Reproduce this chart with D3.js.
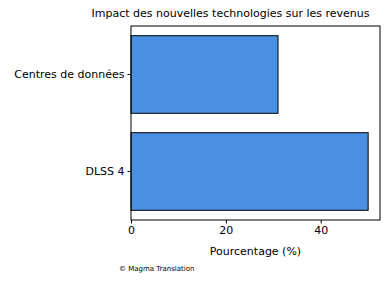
<!DOCTYPE html>
<html>
<head>
<meta charset="utf-8">
<script src="https://cdn.jsdelivr.net/npm/d3@7"></script>
<style>
  body { margin: 0; background: #fff; }
  text { font-family: "DejaVu Sans", sans-serif; fill: #000; }
</style>
</head>
<body>
<div id="chart"></div>
<script>
// data (top to bottom)
const categories = ["Centres de données", "DLSS 4"];
const values = [31, 50];
const xTicks = [0, 20, 40];

const width = 390, height = 282;
const margin = { top: 26, right: 10, bottom: 62, left: 131 };
const innerW = width - margin.left - margin.right;
const innerH = height - margin.top - margin.bottom;

const svg = d3.select("#chart").append("svg")
    .attr("width", width)
    .attr("height", height);

const g = svg.append("g")
    .attr("transform", `translate(${margin.left},${margin.top})`);

// scales
const x = d3.scaleLinear()
    .domain([0, d3.max(values) * 1.05])
    .range([0, innerW]);

const y = d3.scaleBand()
    .domain(categories)
    .range([0, innerH])
    .paddingInner(0.2)
    .paddingOuter(0.1);

// bars
g.selectAll("rect.bar")
    .data(values)
    .join("rect")
    .attr("class", "bar")
    .attr("x", x(0))
    .attr("y", (d, i) => y(categories[i]))
    .attr("width", d => x(d) - x(0))
    .attr("height", y.bandwidth())
    .attr("fill", "#4a90e2")
    .attr("stroke", "#000")
    .attr("stroke-width", 1);

// frame
g.append("rect")
    .attr("width", innerW)
    .attr("height", innerH)
    .attr("fill", "none")
    .attr("stroke", "#000")
    .attr("stroke-width", 1);

// axes
const xAxis = g.append("g")
    .attr("transform", `translate(0,${innerH})`)
    .call(d3.axisBottom(x).tickValues(xTicks).tickSize(3.5).tickPadding(3));
xAxis.select(".domain").remove();
xAxis.selectAll("text").style("font-size", "11px").style("font-family", "DejaVu Sans").attr("fill", "#000");

const yAxis = g.append("g")
    .call(d3.axisLeft(y).tickSize(3.5).tickPadding(3));
yAxis.select(".domain").remove();
yAxis.selectAll("text").style("font-size", "11px").style("font-family", "DejaVu Sans").attr("fill", "#000");

// labels
svg.append("text")
    .attr("x", 230.5)
    .attr("y", 17)
    .attr("text-anchor", "middle")
    .style("font-size", "11px")
    .text("Impact des nouvelles technologies sur les revenus");

svg.append("text")
    .attr("x", margin.left + innerW / 2)
    .attr("y", 254.5)
    .attr("text-anchor", "middle")
    .style("font-size", "11px")
    .text("Pourcentage (%)");

svg.append("text")
    .attr("x", 119)
    .attr("y", 271)
    .style("font-size", "7px")
    .text("© Magma Translation");
</script>
</body>
</html>
